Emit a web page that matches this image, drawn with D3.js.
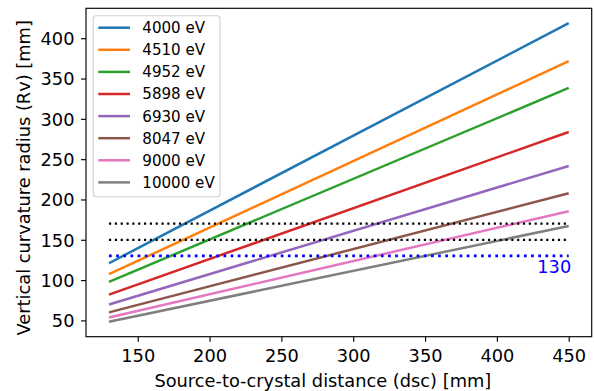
<!DOCTYPE html>
<html>
<head>
<meta charset="utf-8">
<script src="https://cdn.jsdelivr.net/npm/d3@7"></script>
<style>
  html, body { margin: 0; padding: 0; background: #fff; }
  svg { display: block; font-family: "DejaVu Sans", sans-serif; }
  svg text { font-family: "DejaVu Sans", sans-serif; }
</style>
</head>
<body>
<svg id="chart" width="594" height="391"></svg>
<script>
// ---- data ----
const energies = ["4000 eV", "4510 eV", "4952 eV", "5898 eV", "6930 eV", "8047 eV", "9000 eV", "10000 eV"];
const dscRange = [130, 450];
const rvAtStart = [120.9, 107.3, 97.7, 82.0, 69.8, 60.0, 53.6, 48.3];
const rvAtEnd = [418.6, 371.5, 338.3, 283.7, 241.6, 207.7, 185.4, 167.1];
const colors = ["#1f77b4", "#ff7f0e", "#2ca02c", "#d62728", "#9467bd", "#8c564b", "#e377c2", "#7f7f7f"];
const refLines = [
  { value: 170, color: "#000000", width: 2.2, label: null },
  { value: 150, color: "#000000", width: 2.2, label: null },
  { value: 130, color: "#0000ff", width: 2.7, label: "130" }
];
const xTicks = [150, 200, 250, 300, 350, 400, 450];
const yTicks = [50, 100, 150, 200, 250, 300, 350, 400];
const xLabel = "Source-to-crystal distance (dsc) [mm]";
const yLabel = "Vertical curvature radius (Rv) [mm]";

// ---- layout ----
const plot = { left: 86, right: 591.7, top: 8.3, bottom: 336.7 };
const FONT = "DejaVu Sans";
const FS = "17.8px";
const svg = d3.select("#chart");

const xPad = (dscRange[1] - dscRange[0]) * 0.05;
const x = d3.scaleLinear().domain([dscRange[0] - xPad, dscRange[1] + xPad]).range([plot.left, plot.right]);
const yMin = d3.min(rvAtStart), yMax = d3.max(rvAtEnd);
const yPad = (yMax - yMin) * 0.05;
const y = d3.scaleLinear().domain([yMin - yPad, yMax + yPad]).range([plot.bottom, plot.top]);

const series = energies.map((e, i) => ({
  name: e, color: colors[i],
  points: [[dscRange[0], rvAtStart[i]], [dscRange[1], rvAtEnd[i]]]
}));

const line = d3.line().x(d => x(d[0])).y(d => y(d[1]));

// series lines
svg.append("g").selectAll("path").data(series).join("path")
  .attr("d", d => line(d.points))
  .attr("fill", "none")
  .attr("stroke", d => d.color)
  .attr("stroke-width", 2.5)
  .attr("stroke-linecap", "butt");

// reference dotted lines
svg.append("g").selectAll("line").data(refLines).join("line")
  .attr("x1", x(dscRange[0])).attr("x2", x(dscRange[1]))
  .attr("y1", d => y(d.value)).attr("y2", d => y(d.value))
  .attr("stroke", d => d.color)
  .attr("stroke-width", d => d.width)
  .attr("stroke-dasharray", d => `${d.width} ${d.width * 1.65}`);

svg.append("g").selectAll("text").data(refLines.filter(d => d.label)).join("text")
  .attr("x", x(dscRange[1]) + 2.5)
  .attr("y", d => y(d.value) + 16.7)
  .attr("text-anchor", "end")
  .style("font-family", FONT).style("font-size", FS)
  .attr("fill", d => d.color)
  .text(d => d.label);

// axes
const xAxis = svg.append("g")
  .attr("transform", `translate(0,${plot.bottom})`)
  .call(d3.axisBottom(x).tickValues(xTicks).tickSize(5).tickSizeOuter(0));
xAxis.attr("font-family", FONT);
xAxis.select(".domain").remove();
xAxis.selectAll("line").attr("stroke", "#000").attr("stroke-width", 1.15);
xAxis.selectAll("text").attr("y", 25).attr("dy", 0)
  .style("font-family", FONT).style("font-size", FS).attr("fill", "#000");

const yAxis = svg.append("g")
  .attr("transform", `translate(${plot.left},0)`)
  .call(d3.axisLeft(y).tickValues(yTicks).tickSize(5).tickSizeOuter(0));
yAxis.attr("font-family", FONT);
yAxis.select(".domain").remove();
yAxis.selectAll("line").attr("stroke", "#000").attr("stroke-width", 1.15);
yAxis.selectAll("text").attr("x", -11.5).attr("dy", "0.36em")
  .style("font-family", FONT).style("font-size", FS).attr("fill", "#000");

// frame
svg.append("rect")
  .attr("x", plot.left).attr("y", plot.top)
  .attr("width", plot.right - plot.left).attr("height", plot.bottom - plot.top)
  .attr("fill", "none").attr("stroke", "#000").attr("stroke-width", 1.15);

// axis labels
svg.append("text")
  .attr("x", (plot.left + plot.right) / 2 - 16).attr("y", 386.5)
  .attr("text-anchor", "middle")
  .style("font-family", FONT).style("font-size", FS).attr("fill", "#000")
  .text(xLabel);
svg.append("text")
  .attr("transform", `translate(29.5,177.8) rotate(-90)`)
  .attr("text-anchor", "middle")
  .style("font-family", FONT).style("font-size", FS).attr("fill", "#000")
  .text(yLabel);

// legend
const leg = svg.append("g");
leg.append("rect")
  .attr("x", 93.3).attr("y", 15.7).attr("width", 126.7).attr("height", 181)
  .attr("rx", 3).attr("ry", 3)
  .attr("fill", "#fff").attr("fill-opacity", 0.8)
  .attr("stroke", "#d0d0d0").attr("stroke-width", 1.1);
const rows = leg.selectAll("g.row").data(series).join("g")
  .attr("class", "row")
  .attr("transform", (d, i) => `translate(0,${27.7 + i * 22.1})`);
rows.append("line")
  .attr("x1", 98.3).attr("x2", 130).attr("y1", 0).attr("y2", 0)
  .attr("stroke", d => d.color).attr("stroke-width", 2.5);
rows.append("text")
  .attr("x", 142.3).attr("y", 0).attr("dy", "0.36em")
  .style("font-family", FONT).style("font-size", "15.1px").attr("fill", "#000")
  .text(d => d.name);
</script>
</body>
</html>
